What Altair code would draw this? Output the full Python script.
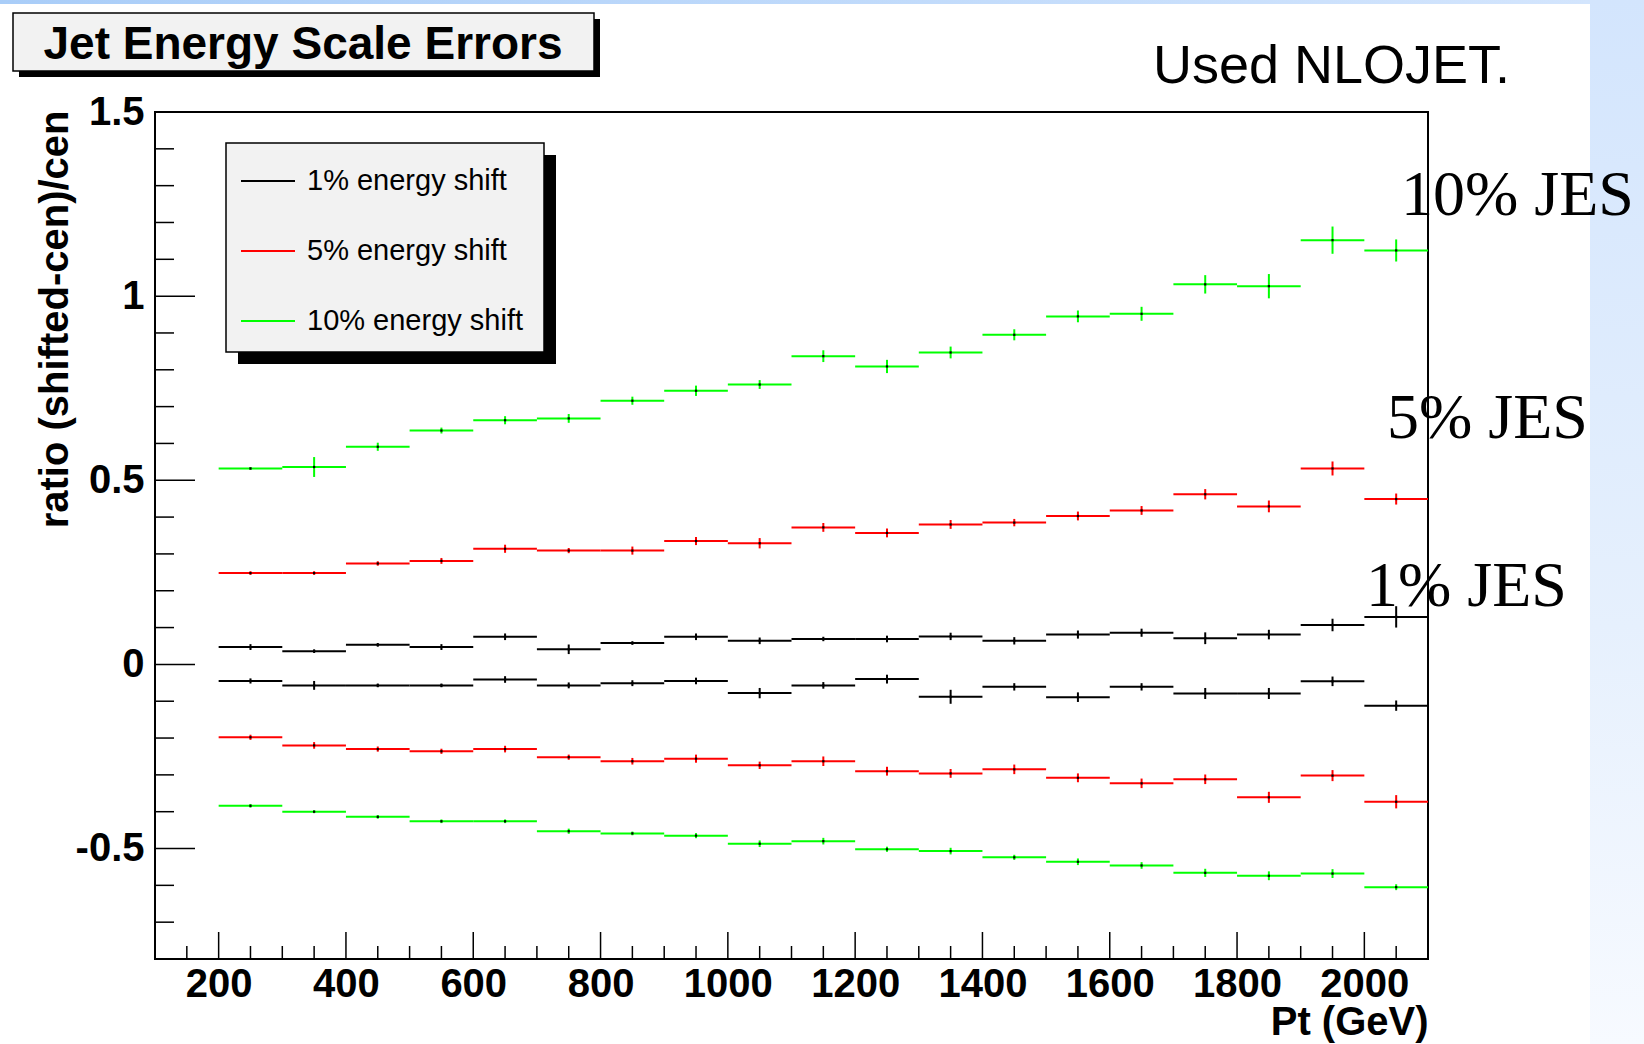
import altair as alt
import pandas as pd

# ---------------- data ----------------
bin_low = [200, 300, 400, 500, 600, 700, 800, 900, 1000, 1100,
           1200, 1300, 1400, 1500, 1600, 1700, 1800, 1900, 2000]
bin_width = 100

series_labels = ["1% energy shift", "5% energy shift", "10% energy shift"]
series_colors = ["#000000", "#ff0000", "#00ff00"]

up_1 = [0.047, 0.036, 0.053, 0.047, 0.075, 0.041, 0.058, 0.075, 0.064, 0.069,
        0.069, 0.076, 0.064, 0.081, 0.086, 0.071, 0.081, 0.107, 0.129]
err_up_1 = [0.008, 0.005, 0.005, 0.008, 0.009, 0.013, 0.005, 0.009, 0.009, 0.006,
            0.009, 0.010, 0.010, 0.011, 0.011, 0.016, 0.013, 0.017, 0.029]
dn_1 = [-0.045, -0.057, -0.057, -0.057, -0.041, -0.057, -0.051, -0.045, -0.078, -0.057,
        -0.040, -0.088, -0.061, -0.089, -0.061, -0.079, -0.079, -0.046, -0.112]
err_dn_1 = [0.007, 0.012, 0.005, 0.005, 0.009, 0.008, 0.008, 0.009, 0.014, 0.009,
            0.012, 0.019, 0.010, 0.013, 0.010, 0.015, 0.015, 0.013, 0.014]

up_5 = [0.248, 0.248, 0.274, 0.281, 0.314, 0.309, 0.309, 0.335, 0.329, 0.372,
        0.357, 0.380, 0.385, 0.403, 0.418, 0.462, 0.429, 0.532, 0.449]
err_up_5 = [0.005, 0.005, 0.006, 0.008, 0.011, 0.007, 0.011, 0.011, 0.014, 0.012,
            0.012, 0.012, 0.010, 0.012, 0.012, 0.014, 0.016, 0.019, 0.015]
dn_5 = [-0.198, -0.220, -0.230, -0.236, -0.230, -0.252, -0.263, -0.256, -0.274, -0.263,
        -0.290, -0.296, -0.285, -0.308, -0.323, -0.312, -0.361, -0.302, -0.373]
err_dn_5 = [0.007, 0.009, 0.007, 0.007, 0.009, 0.007, 0.009, 0.011, 0.010, 0.013,
            0.012, 0.012, 0.013, 0.012, 0.013, 0.013, 0.015, 0.015, 0.018]

up_10 = [0.532, 0.536, 0.591, 0.635, 0.663, 0.668, 0.716, 0.743, 0.760, 0.837,
         0.809, 0.847, 0.895, 0.945, 0.952, 1.032, 1.027, 1.152, 1.124]
err_up_10 = [0.004, 0.027, 0.011, 0.008, 0.011, 0.012, 0.011, 0.014, 0.012, 0.016,
             0.018, 0.016, 0.015, 0.016, 0.019, 0.025, 0.033, 0.037, 0.030]
dn_10 = [-0.384, -0.400, -0.414, -0.426, -0.426, -0.453, -0.459, -0.465, -0.487, -0.480,
         -0.502, -0.507, -0.524, -0.536, -0.546, -0.566, -0.574, -0.568, -0.605]
err_dn_10 = [0.005, 0.004, 0.005, 0.005, 0.005, 0.007, 0.005, 0.007, 0.009, 0.009,
             0.007, 0.009, 0.007, 0.009, 0.009, 0.011, 0.012, 0.012, 0.008]

y_major_ticks = [-0.5, 0.0, 0.5, 1.0]
y_minor_ticks = [-0.7, -0.6, -0.4, -0.3, -0.2, -0.1, 0.1, 0.2, 0.3, 0.4,
                 0.6, 0.7, 0.8, 0.9, 1.1, 1.2, 1.3, 1.4]
y_label_values = [-0.5, 0.0, 0.5, 1.0, 1.5]
x_major_ticks = [200, 400, 600, 800, 1000, 1200, 1400, 1600, 1800, 2000]
x_minor_ticks = [150, 250, 300, 350, 450, 500, 550, 650, 700, 750, 850, 900, 950,
                 1050, 1100, 1150, 1250, 1300, 1350, 1450, 1500, 1550, 1650, 1700,
                 1750, 1850, 1900, 1950, 2050]

# ---------------- build table ----------------
rows = []
for label, vals, errs in [
    (series_labels[0], up_1, err_up_1), (series_labels[0], dn_1, err_dn_1),
    (series_labels[1], up_5, err_up_5), (series_labels[1], dn_5, err_dn_5),
    (series_labels[2], up_10, err_up_10), (series_labels[2], dn_10, err_dn_10),
]:
    for lo, v, e in zip(bin_low, vals, errs):
        rows.append({"series": label, "lo": lo, "hi": lo + bin_width,
                     "c": lo + bin_width / 2, "v": v, "elo": v - e, "ehi": v + e})
df = pd.DataFrame(rows)

W, H = 1273, 847
PAD_L, PAD_T = 155, 112

xs = alt.Scale(domain=[100, 2100], nice=False, zero=False)
ys = alt.Scale(domain=[-0.8, 1.5], nice=False, zero=False)

FONT = "Liberation Sans"

color_enc = alt.Color(
    "series:N",
    scale=alt.Scale(domain=series_labels, range=series_colors),
    legend=alt.Legend(
        orient="none", legendX=85, legendY=41, title=None,
        symbolType="stroke", symbolSize=2916, symbolStrokeWidth=2,
        labelFont=FONT, labelFontSize=29, labelColor="black", labelLimit=0,
        labelOffset=11, rowPadding=27, padding=0,
    ),
)

x_axis = alt.Axis(
    values=x_major_ticks, ticks=False, grid=False, domain=False,
    labelExpr="datum.value + ''",
    labelFont=FONT, labelFontWeight="bold", labelFontSize=40, labelColor="black",
    labelPadding=5, labelFlush=False,
    title="Pt (GeV)", titleFont=FONT, titleFontWeight="bold", titleFontSize=40,
    titleColor="black", titleX=W, titleY=75, titleAlign="right",
    titleBaseline="alphabetic", titleAnchor="end",
)
y_axis = alt.Axis(
    values=y_label_values, ticks=False, grid=False, domain=False,
    labelExpr="datum.value + ''",
    labelFont=FONT, labelFontWeight="bold", labelFontSize=40, labelColor="black",
    labelPadding=11,
    title="ratio (shifted-cen)/cen", titleFont=FONT, titleFontWeight="bold",
    titleFontSize=40, titleColor="black", titleX=-100, titleY=-2, titleAngle=-90,
    titleAlign="right", titleBaseline="middle",
)

base = alt.Chart(df)

segments = base.mark_rule(strokeWidth=2).encode(
    x=alt.X("lo:Q", scale=xs, axis=x_axis),
    x2="hi:Q",
    y=alt.Y("v:Q", scale=ys, axis=y_axis),
    color=color_enc,
)
errbars = base.mark_rule(strokeWidth=2).encode(
    x=alt.X("c:Q", scale=xs),
    y=alt.Y("elo:Q", scale=ys),
    y2="ehi:Q",
    color=color_enc,
)
dots = base.mark_square(size=5, color="black", opacity=1).encode(
    x=alt.X("c:Q", scale=xs),
    y=alt.Y("v:Q", scale=ys),
)

# inward axis ticks
ymaj = alt.Chart(pd.DataFrame({"t": y_major_ticks})).mark_rule(color="black", strokeWidth=1.5).encode(
    y=alt.Y("t:Q", scale=ys), x=alt.value(0), x2=alt.value(40))
ymin = alt.Chart(pd.DataFrame({"t": y_minor_ticks})).mark_rule(color="black", strokeWidth=1.5).encode(
    y=alt.Y("t:Q", scale=ys), x=alt.value(0), x2=alt.value(19))
xmaj = alt.Chart(pd.DataFrame({"t": x_major_ticks})).mark_rule(color="black", strokeWidth=1.5).encode(
    x=alt.X("t:Q", scale=xs), y=alt.value(H), y2=alt.value(H - 27))
xmin = alt.Chart(pd.DataFrame({"t": x_minor_ticks})).mark_rule(color="black", strokeWidth=1.5).encode(
    x=alt.X("t:Q", scale=xs), y=alt.value(H), y2=alt.value(H - 13))

one = pd.DataFrame({"k": [0]})


def box(x1, y1, x2, y2, fill, stroke=None, sw=0):
    kw = {"fill": fill}
    if stroke is not None:
        kw.update({"stroke": stroke, "strokeWidth": sw})
    return alt.Chart(one).mark_rect(**kw).encode(
        x=alt.value(x1), x2=alt.value(x2), y=alt.value(y1), y2=alt.value(y2))


def label(txt, x, y, size, font=FONT, weight="normal", align="left"):
    return alt.Chart(pd.DataFrame({"t": [txt]})).mark_text(
        font=font, fontSize=size, fontWeight=weight, align=align,
        baseline="alphabetic", color="black").encode(
        x=alt.value(x), y=alt.value(y), text="t:N")


# slide background strips
right_strip = alt.Chart(one).mark_rect(
    fill=alt.Gradient(gradient="linear", x1=0, x2=0, y1=0, y2=1,
                      stops=[alt.GradientStop(color="#d3e5fd", offset=0),
                             alt.GradientStop(color="#e6f0fd", offset=0.6),
                             alt.GradientStop(color="#f7faff", offset=1)])
).encode(x=alt.value(1435), x2=alt.value(1489), y=alt.value(-PAD_T), y2=alt.value(1044 - PAD_T))
top_strip = alt.Chart(one).mark_rect(
    fill=alt.Gradient(gradient="linear", x1=0, x2=1, y1=0, y2=0,
                      stops=[alt.GradientStop(color="#a9cdf8", offset=0),
                             alt.GradientStop(color="#d3e5fd", offset=1)])
).encode(x=alt.value(-PAD_L), x2=alt.value(1435), y=alt.value(-PAD_T), y2=alt.value(-PAD_T + 4))

title_shadow = box(-136, -93, 445, -35, "black")
title_box = box(-142, -99, 439, -41, "#f2f2f2", "black", 1.5)
title_txt = label("Jet Energy Scale Errors", 148, -53, 46, weight="bold", align="center")

legend_shadow = box(83, 43, 401, 252, "black")
legend_box = box(71, 31, 389, 240, "#f2f2f2", "black", 1.5)

nlojet = label("Used NLOJET.", 998, -29, 54)
jes10 = label("10% JES", 1246, 103, 64, font="Liberation Serif")
jes5 = label("5% JES", 1232, 326, 64, font="Liberation Serif")
jes1 = label("1% JES", 1211, 494, 64, font="Liberation Serif")

chart = alt.layer(
    right_strip, top_strip,
    legend_shadow, legend_box,
    ymaj, ymin, xmaj, xmin,
    segments, errbars, dots,
    title_shadow, title_box, title_txt,
    nlojet, jes10, jes5, jes1,
).properties(
    width=W, height=H,
    autosize=alt.AutoSizeParams(type="none"),
    padding={"left": PAD_L, "top": PAD_T, "right": 1644 - PAD_L - W, "bottom": 1044 - PAD_T - H},
    background="white",
).configure_view(stroke="black", strokeWidth=2)

chart.save("out.html", embed_options={"renderer": "svg", "actions": False})
